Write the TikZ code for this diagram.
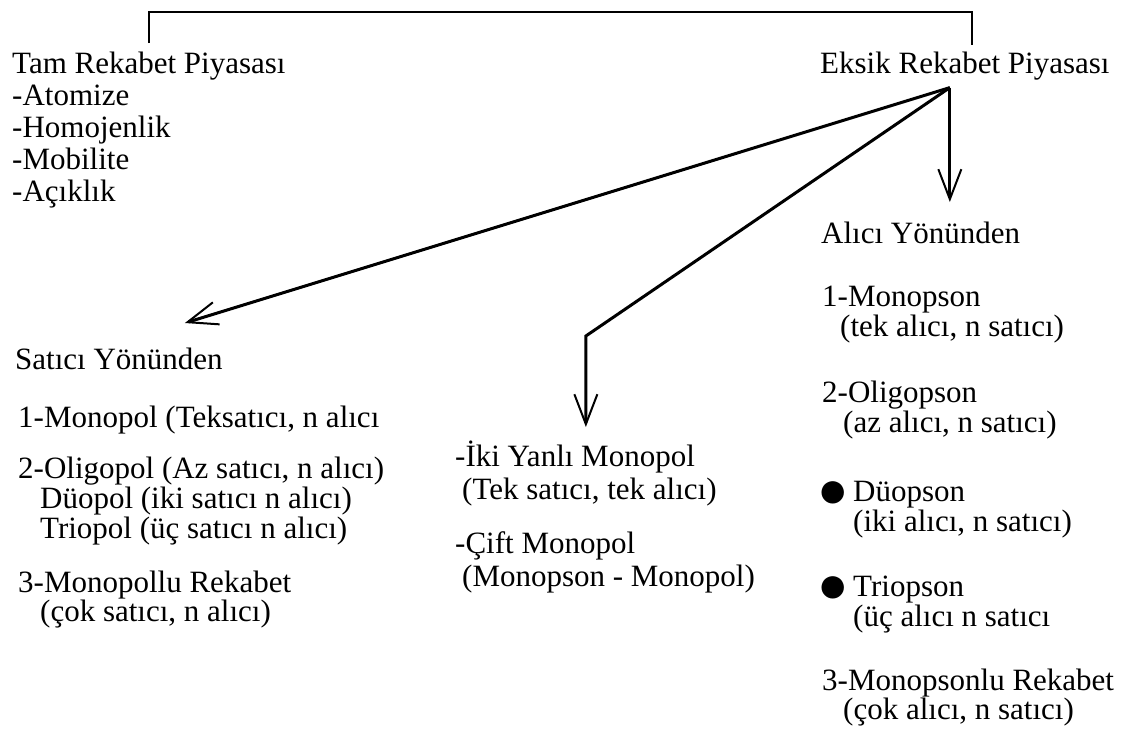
\documentclass[tikz,border=0pt]{standalone}
\usepackage{fontspec}
\setmainfont{Liberation Serif}
\usepackage{tikz}
\usetikzlibrary{
  positioning,
  arrows.meta,
  calc
}
\definecolor{inkcolor}{RGB}{0,0,0}
\tikzset{
  labeltext/.style={
    anchor=north west, inner sep=0pt, align=left, text=inkcolor,
    font=\fontsize{31}{30}\selectfont
  },
  bigarrow/.style={
    -{Straight Barb[length=30pt,width=23pt,line width=2pt]},
    line width=3pt, draw=inkcolor
  },
  bracketline/.style={
    line width=2.2pt, draw=inkcolor
  }
}
\newcommand{\indentby}[1]{\hspace*{#1pt}}
\newcommand{\bigdot}{\makebox[31pt][l]{\hspace*{-5pt}\raisebox{-6pt}{\fontsize{52}{52}\selectfont ●}}}

\begin{document}
\begin{tikzpicture}[x=1pt, y=-1pt]
  \useasboundingbox (0,0) rectangle (1128,731);

  % market types
  \node[labeltext, font=\fontsize{31}{32}\selectfont] (tam) at (12,52) {
    Tam Rekabet Piyasası\\
    -Atomize\\
    -Homojenlik\\
    -Mobilite\\
    -Açıklık
  };
  \node[labeltext] (eksik) at (820,52) {Eksik Rekabet Piyasası};

  % seller side
  \node[labeltext] (satici) at (15,348) {Satıcı Yönünden};
  \node[labeltext] (monopol) at (18,406) {1-Monopol (Teksatıcı, n alıcı};
  \node[labeltext] (oligopol) at (18,457) {
    2-Oligopol (Az satıcı, n alıcı)\\
    \indentby{22}Düopol (iki satıcı n alıcı)\\
    \indentby{22}Triopol (üç satıcı n alıcı)
  };
  \node[labeltext, font=\fontsize{31}{28}\selectfont] (monrek) at (18,571) {
    3-Monopollu Rekabet\\
    \indentby{22}(çok satıcı, n alıcı)
  };

  % both sides
  \node[labeltext, font=\fontsize{31}{33}\selectfont] (iki) at (455,441) {
    -İki Yanlı Monopol\\
    \indentby{7}(Tek satıcı, tek alıcı)
  };
  \node[labeltext, font=\fontsize{31}{33}\selectfont] (cift) at (455,531) {
    -Çift Monopol\\
    \indentby{7}(Monopson - Monopol)
  };

  % buyer side
  \node[labeltext] (alici) at (821,222) {Alıcı Yönünden};
  \node[labeltext] (monopson) at (822,286) {
    1-Monopson\\
    \indentby{18}(tek alıcı, n satıcı)
  };
  \node[labeltext] (oligopson) at (822,381) {
    2-Oligopson\\
    \indentby{21}(az alıcı, n satıcı)
  };
  \node[labeltext] (duopson) at (822,481) {
    \bigdot Düopson\\
    \indentby{31}(iki alıcı, n satıcı)
  };
  \node[labeltext] (triopson) at (822,576) {
    \bigdot Triopson\\
    \indentby{31}(üç alıcı n satıcı
  };
  \node[labeltext, font=\fontsize{31}{28}\selectfont] (monopsrek) at (822,669) {
    3-Monopsonlu Rekabet\\
    \indentby{21}(çok alıcı, n satıcı)
  };

  % connectors
  \coordinate (top) at (0,12);
  \draw[bracketline] ([yshift=9pt]tam.north) -- (tam.north |- top)
    -- ([xshift=7pt]eksik.north |- top) -- ([xshift=7pt,yshift=7pt]eksik.north);

  \coordinate (hub) at ([xshift=-15pt,yshift=-7pt]eksik.south);
  \coordinate (saticiTip) at ([xshift=-38pt,yshift=25pt]satici.north east);
  \coordinate (ikiTip) at ([yshift=14pt]iki.north);
  \coordinate (aliciTip) at ($(hub |- alici.north)+(0,-20)$);

  \draw[bigarrow] (hub) -- (saticiTip);
  \draw[bigarrow] (hub) -- ($(ikiTip)+(0,-91)$) -- (ikiTip);
  \draw[bigarrow] (hub) -- (aliciTip);

\end{tikzpicture}
\end{document}
